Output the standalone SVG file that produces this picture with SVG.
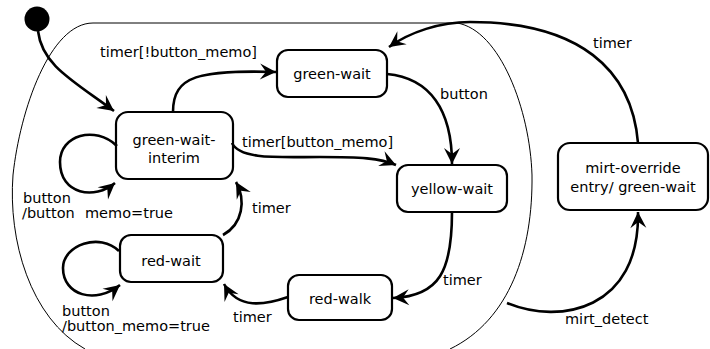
<svg xmlns="http://www.w3.org/2000/svg" width="710" height="349" viewBox="0 0 710 349">
<style>
.node rect{fill:#fff;stroke:#000;stroke-width:2.2}
text{font-family:"DejaVu Sans","Liberation Sans",sans-serif;font-size:14.5px;fill:#000}
.c{text-anchor:middle}
.edge{fill:none;stroke:#000;stroke-width:2.6;marker-end:url(#arr)}
.bound{fill:none;stroke:#000;stroke-width:1}
</style>
<defs>
<marker id="arr" markerUnits="userSpaceOnUse" viewBox="-17 -9 19 18" refX="0" refY="0" markerWidth="19" markerHeight="18" orient="auto">
<path d="M0,0 L-16,-8 L-10,0 L-16,8 Z" fill="#000"/>
</marker>
</defs>
<rect width="710" height="349" fill="#fff"/>
<path class="bound" d="M93,23 C50,23 20,110 13,175 C8,240 30,318 85,349"/>
<path class="bound" d="M93,23 L457,23"/>
<path class="bound" d="M457,23 C500,30 530,110 532,175 C533,250 510,320 450,349"/>
<g id="initial"><circle cx="37" cy="19" r="12.5" fill="#000"/></g>
<g id="green-wait" class="node"><rect x="277" y="50" width="110" height="47" rx="11"/><text class="c" x="332" y="79">green-wait</text></g>
<g id="green-wait-interim" class="node"><rect x="116" y="112" width="117" height="67" rx="12"/><text class="c" x="174" y="145">green-wait-</text><text class="c" x="174" y="163">interim</text></g>
<g id="yellow-wait" class="node"><rect x="397" y="165" width="110" height="47" rx="11"/><text class="c" x="452" y="194">yellow-wait</text></g>
<g id="mirt-override" class="node"><rect x="558" y="143" width="150" height="67" rx="12"/><text class="c" x="633" y="173">mirt-override</text><text class="c" x="633" y="192">entry/ green-wait</text></g>
<g id="red-wait" class="node"><rect x="120" y="235" width="103" height="47" rx="11"/><text class="c" x="171" y="266">red-wait</text></g>
<g id="red-walk" class="node"><rect x="288" y="275" width="104" height="45" rx="11"/><text class="c" x="340" y="304">red-walk</text></g>
<g id="connectors">
<path class="edge" d="M38,31 C42,65 72,80 114,111"/>
<path class="edge" d="M173,112 C173,75 200,70 276,72"/>
<path class="edge" d="M232,143 C240,160 280,157 320,157 C360,157 380,158 396,165"/>
<path class="edge" d="M387,74 C430,78 452,110 452,164"/>
<path class="edge" d="M452,212 C452,270 440,296 393,298"/>
<path class="edge" d="M288,297 C265,305 238,310 224,284"/>
<path class="edge" d="M223,235 C243,224 246,200 236,182"/>
<path class="edge" d="M117,146 C95,125 60,135 60,162 C60,195 95,200 115,183"/>
<path class="edge" d="M119,251 C100,232 63,245 63,268 C63,295 95,305 120,285"/>
<path class="edge" d="M638,143 C632,70 580,22 470,22 C440,22 410,32 389,47"/>
<path class="edge" d="M507,303 C560,325 640,310 638,212"/>
</g>
<g id="labels">
<text x="100" y="57">timer[!button_memo]</text>
<text x="242" y="147">timer[button_memo]</text>
<text x="440" y="99">button</text>
<text x="593" y="48">timer</text>
<text x="443" y="285">timer</text>
<text x="233" y="322">timer</text>
<text x="252" y="213">timer</text>
<text x="23" y="203">button</text>
<text x="22" y="218">/button</text>
<text x="85" y="218">memo=true</text>
<text x="62" y="316">button</text>
<text x="62" y="331">/button_memo=true</text>
<text x="565" y="324">mirt_detect</text>
</g>
</svg>
